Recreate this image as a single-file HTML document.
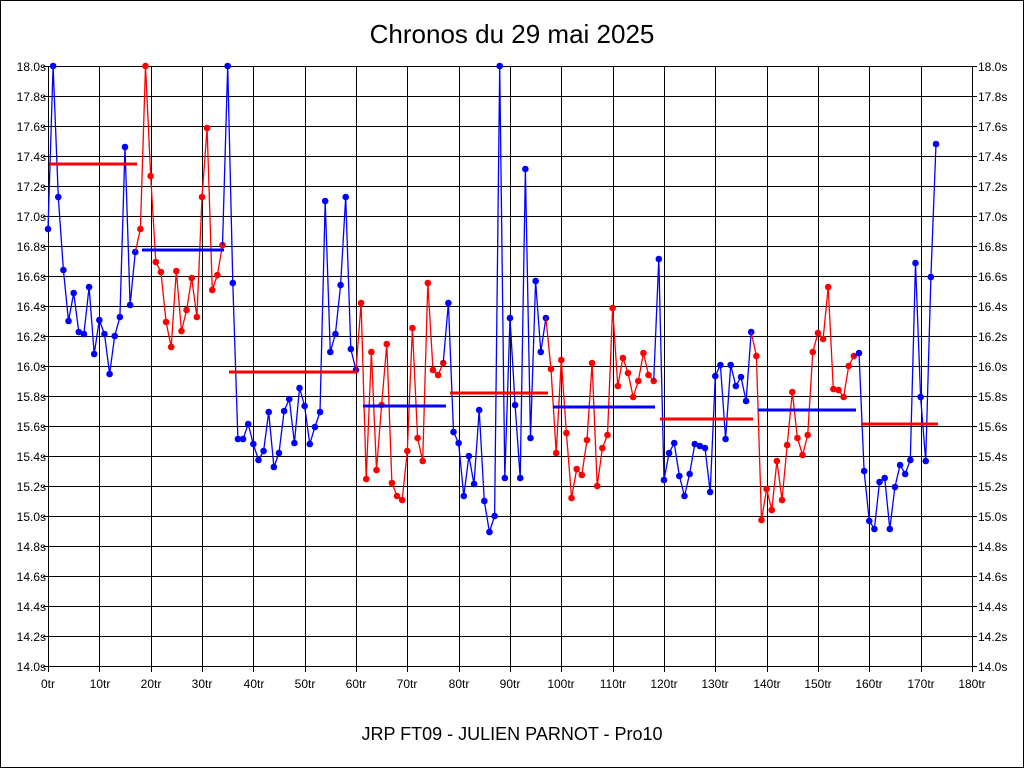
<!DOCTYPE html>
<html><head><meta charset="utf-8"><style>
html,body{margin:0;padding:0;background:#fff}
svg{display:block;font-family:"Liberation Sans",sans-serif}
</style></head><body>
<svg id="s" width="1024" height="768" viewBox="0 0 1024 768" xmlns="http://www.w3.org/2000/svg">
<rect x="0.5" y="0.5" width="1023" height="767" fill="#fff" stroke="#000"/>
<g id="grid" stroke="#000" stroke-width="1"></g>
<rect x="48.5" y="66.5" width="924" height="600" fill="none" stroke="#000"/>
<text x="512" y="43" font-size="26" text-anchor="middle">Chronos du 29 mai 2025</text>
<text x="512" y="740" font-size="18" text-anchor="middle">JRP FT09 - JULIEN PARNOT - Pro10</text>
<g font-size="12" text-anchor="end">
<text x="46" y="71">18.0s</text><text x="46" y="101">17.8s</text><text x="46" y="131">17.6s</text><text x="46" y="161">17.4s</text><text x="46" y="191">17.2s</text><text x="46" y="221">17.0s</text><text x="46" y="251">16.8s</text><text x="46" y="281">16.6s</text><text x="46" y="311">16.4s</text><text x="46" y="341">16.2s</text><text x="46" y="371">16.0s</text><text x="46" y="401">15.8s</text><text x="46" y="431">15.6s</text><text x="46" y="461">15.4s</text><text x="46" y="491">15.2s</text><text x="46" y="521">15.0s</text><text x="46" y="551">14.8s</text><text x="46" y="581">14.6s</text><text x="46" y="611">14.4s</text><text x="46" y="641">14.2s</text><text x="46" y="671">14.0s</text>
</g>
<g font-size="12" text-anchor="start">
<text x="978" y="71">18.0s</text><text x="978" y="101">17.8s</text><text x="978" y="131">17.6s</text><text x="978" y="161">17.4s</text><text x="978" y="191">17.2s</text><text x="978" y="221">17.0s</text><text x="978" y="251">16.8s</text><text x="978" y="281">16.6s</text><text x="978" y="311">16.4s</text><text x="978" y="341">16.2s</text><text x="978" y="371">16.0s</text><text x="978" y="401">15.8s</text><text x="978" y="431">15.6s</text><text x="978" y="461">15.4s</text><text x="978" y="491">15.2s</text><text x="978" y="521">15.0s</text><text x="978" y="551">14.8s</text><text x="978" y="581">14.6s</text><text x="978" y="611">14.4s</text><text x="978" y="641">14.2s</text><text x="978" y="671">14.0s</text>
</g>
<g font-size="12" text-anchor="middle">
<text x="48" y="688">0tr</text><text x="100" y="688">10tr</text><text x="151" y="688">20tr</text><text x="202" y="688">30tr</text><text x="254" y="688">40tr</text><text x="305" y="688">50tr</text><text x="356" y="688">60tr</text><text x="407" y="688">70tr</text><text x="459" y="688">80tr</text><text x="510" y="688">90tr</text><text x="561" y="688">100tr</text><text x="613" y="688">110tr</text><text x="664" y="688">120tr</text><text x="715" y="688">130tr</text><text x="767" y="688">140tr</text><text x="818" y="688">150tr</text><text x="869" y="688">160tr</text><text x="921" y="688">170tr</text><text x="972" y="688">180tr</text>
</g>
<g id="data"></g>
</svg>
<script>
var NS="http://www.w3.org/2000/svg",g=document.getElementById("grid"),d=document.getElementById("data");
function el(p,t,a){var e=document.createElementNS(NS,t);for(var k in a)e.setAttribute(k,a[k]);p.appendChild(e);return e;}
for(var i=1;i<18;i++){var x=Math.round(48+i*924/18)+0.5;el(g,"line",{x1:x,y1:66,x2:x,y2:672});}
for(var j=0;j<=20;j++){var y=66+j*30+0.5;el(g,"line",{x1:43,y1:y,x2:977,y2:y});}
el(g,"line",{x1:48.5,y1:666,x2:48.5,y2:672});el(g,"line",{x1:972.5,y1:666,x2:972.5,y2:672});
var segs=[
["#00f",[229,66,197,270,321,293,332,334,287,354,320,334,374,336,317,147,305,252]],
["#f00",[229,66,176,262,272,322,347,271,331,310,278,317,197,128,290,275,245]],
["#00f",[66,283,439,439,424,444,460,451,412,467,453,411,399,443,388,406,444,427,412,201,352,334,285,197,349,370]],
["#f00",[303,479,352,470,405,344,483,496,500,451,328,438,461,283,370,375,363]],
["#00f",[303,432,443,496,456,484,410,501,532,516,66,478,318,405,478,169,438,281,352,318]],
["#f00",[369,453,360,433,498,469,475,440,363,486,448,435,308,386,358,373,397,381,353,375,381]],
["#00f",[259,480,453,443,476,496,474,444,446,448,492,376,365,439,365,386,377,401,332]],
["#f00",[356,520,489,510,461,500,445,392,438,455,435,352,333,339,287,389,390,397,366,356]],
["#00f",[353,471,521,529,482,478,529,487,465,474,460,263,397,461,277,144]]];
var idx=0,prev=null;
segs.forEach(function(s){var pts=[];if(prev)pts.push(prev);
 s[1].forEach(function(y){pts.push([48+idx*5.133,y]);idx++;});
 el(d,"polyline",{points:pts.map(function(p){return p[0].toFixed(1)+","+p[1];}).join(" "),fill:"none",stroke:s[0],"stroke-width":1.3});
 pts.forEach(function(p,k){if(k==0&&prev)return;el(d,"circle",{cx:p[0],cy:p[1],r:3.3,fill:s[0]});});
 prev=pts[pts.length-1];});
var avg=[["#f00",49,137,164],["#00f",142,224,250],["#f00",229,357,372],["#00f",363,446,406],["#f00",450,548,393],["#00f",553,655,407],["#f00",660,753,419],["#00f",758,856,410],["#f00",861,938,424]];
avg.forEach(function(a){el(d,"line",{x1:a[1],x2:a[2],y1:a[3],y2:a[3],stroke:a[0],"stroke-width":3});});
</script>
</body></html>
